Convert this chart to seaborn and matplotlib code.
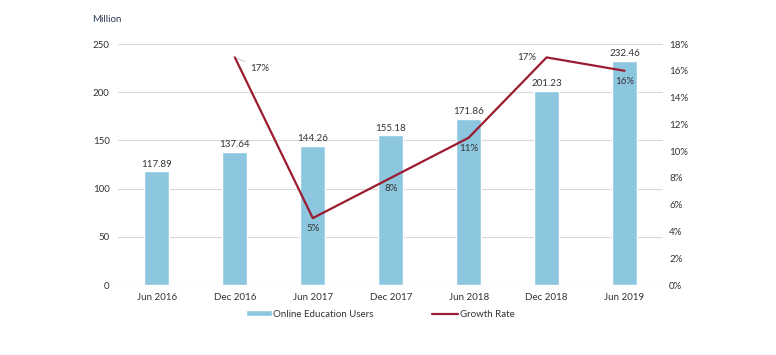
import numpy as np
import pandas as pd
import matplotlib.pyplot as plt
import seaborn as sns

# --- chart data ---
periods = ['Jun 2016', 'Dec 2016', 'Jun 2017', 'Dec 2017', 'Jun 2018', 'Dec 2018', 'Jun 2019']
users = [117.89, 137.64, 144.26, 155.18, 171.86, 201.23, 232.46]
growth = [np.nan, 17, 5, 8, 11, 17, 16]

bar_color = '#8DC6DF'
line_color = '#9B1B30'
text_color = '#333333'

sns.set_theme(style='white')
plt.rcParams['font.family'] = ['Lato', 'DejaVu Sans']

df = pd.DataFrame({'Period': periods, 'Users': users, 'Growth': growth})
df['idx'] = range(len(df))

fig, ax = plt.subplots(figsize=(7.76, 3.55), dpi=100)
fig.subplots_adjust(left=0.152, right=0.855, top=0.876, bottom=0.197)

sns.barplot(data=df, x='Period', y='Users', color=bar_color, width=0.32,
            saturation=1, ax=ax, label='Online Education Users', zorder=2)
if ax.get_legend() is not None:
    ax.get_legend().remove()
ax.set_ylim(0, 250)
ax.set_yticks(range(0, 251, 50))
ax.set_xlim(-0.5, len(periods) - 0.5)
ax.grid(axis='y', color='#d9d9d9', linewidth=0.8, zorder=0)
ax.set_axisbelow(True)
ax.set_xlabel('')
ax.set_ylabel('')
for s in ax.spines.values():
    s.set_visible(False)
ax.tick_params(axis='both', length=0, labelsize=7, colors=text_color, pad=6)

for i, v in enumerate(users):
    ax.text(i, v + 3, f'{v:.2f}', ha='center', va='bottom', fontsize=7, color=text_color)

ax.text(-0.048, 1.1, 'Million', transform=ax.transAxes, fontsize=7, color='#2b3a55',
        ha='left', va='center')

ax2 = ax.twinx()
gdf = df.dropna(subset=['Growth'])
sns.lineplot(data=gdf, x='idx', y='Growth', color=line_color, linewidth=1.6,
             ax=ax2, label='Growth Rate', legend=False)
ax2.set_ylim(0, 18)
ax2.set_yticks(range(0, 19, 2))
ax2.set_yticklabels([f'{t}%' for t in range(0, 19, 2)])
ax2.set_xlim(-0.5, len(periods) - 0.5)
ax2.set_ylabel('')
ax2.set_xlabel('')
for s in ax2.spines.values():
    s.set_visible(False)
ax2.tick_params(axis='y', length=0, labelsize=7, colors=text_color, pad=4)

# growth labels
ax2.annotate('17%', xy=(1, 17), xytext=(1.2, 16.2), fontsize=7, color=text_color,
             va='center', ha='left',
             arrowprops=dict(arrowstyle='-', color='#bbbbbb', lw=0.6))
offsets = {2: (0, -0.8), 3: (0, -0.8), 4: (0, -0.8), 5: (-0.25, 0), 6: (0, -0.8)}
for i, (dx, dy) in offsets.items():
    ax2.text(i + dx, growth[i] + dy, f'{growth[i]:.0f}%', ha='center', va='center',
             fontsize=7, color=text_color)

h1, l1 = ax.get_legend_handles_labels()
h2, l2 = ax2.get_legend_handles_labels()
fig.legend(h1 + h2, l1 + l2, loc='center', bbox_to_anchor=(0.49, 0.115), ncol=2,
           frameon=False, fontsize=7, handlelength=2.6, handleheight=0.5,
           handletextpad=0.2, columnspacing=6, labelcolor=text_color)

fig.savefig('out.png', dpi=100)
